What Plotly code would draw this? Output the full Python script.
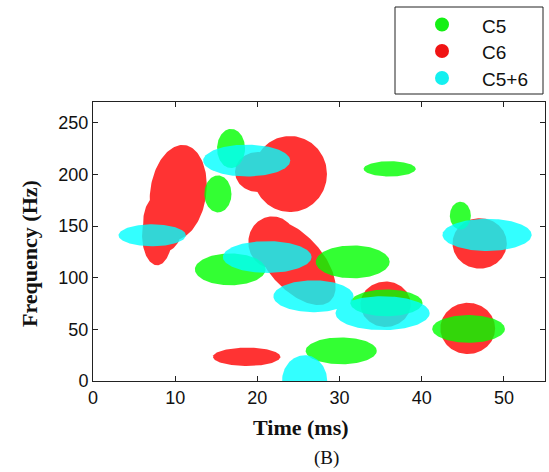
import numpy as np
import plotly.graph_objects as go

# ---------------- data ----------------
series_names = ["C5", "C6", "C5+6"]

# C5 (green) spots: centre time (ms), centre frequency (Hz), half-spread in time, half-spread in freq
c5_time = [16.8, 15.2, 36.1, 44.7, 16.7, 31.6, 35.7, 45.7, 30.2]
c5_freq = [225.0, 181.0, 205.3, 160.0, 108.0, 115.3, 75.6, 50.4, 29.2]
c5_dt = [1.7, 1.65, 3.17, 1.28, 4.3, 4.5, 4.4, 4.43, 4.33]
c5_df = [19.0, 17.9, 7.4, 13.5, 15.4, 15.9, 12.9, 13.4, 13.0]
c5_tilt = [0, 0, 0, 0, 0, 0, 0, 0, 0]
c5_group = [0, 1, 2, 3, 4, 5, 6, 7, 8]

# C6 (red) spots (blobs built from the union of ellipses of the same group)
c6_time = [10.37, 8.54, 7.8, 23.97, 20.08, 21.83, 24.63, 35.6, 45.6, 47.05, 18.7]
c6_freq = [182.4, 153.5, 141.0, 200.3, 202.3, 134.2, 114.9, 74.3, 50.9, 133.2, 23.4]
c6_dt = [3.41, 2.44, 1.83, 4.5, 2.8, 2.93, 6.34, 3.05, 3.33, 3.3, 4.1]
c6_df = [46.3, 29.0, 29.0, 36.8, 19.4, 25.1, 26.1, 22.0, 24.8, 24.4, 8.9]
c6_tilt = [-8, 0, 0, 0, 0, 0, -48, 0, 0, 0, 0]
c6_group = [0, 0, 0, 1, 1, 2, 2, 3, 4, 5, 6]

# C5+6 (cyan) spots
c56_time = [7.2, 18.7, 21.2, 26.83, 35.24, 47.95, 25.75]
c56_freq = [141.0, 213.3, 120.0, 82.0, 65.6, 141.4, 0.0]
c56_dt = [4.1, 5.3, 5.4, 4.88, 5.73, 5.43, 2.75]
c56_df = [10.6, 15.4, 15.4, 15.4, 16.4, 15.6, 25.0]
c56_tilt = [0, 0, 0, 0, 0, 0, 0]
c56_group = [0, 1, 2, 3, 3, 4, 5]

x_ticks = [0, 10, 20, 30, 40, 50]
y_ticks = [0, 50, 100, 150, 200, 250]
x_range = [0, 55]
y_range = [0, 270]

# ---------------- layout geometry ----------------
W, H = 549, 472
ML, MR, MT, MB = 93, 4, 102, 91
PW, PH = W - ML - MR, H - MT - MB
PX_X = PW / (x_range[1] - x_range[0])
PX_Y = PH / (y_range[1] - y_range[0])


def ellipse_pts(cx, cy, rx, ry, tilt):
    t = np.linspace(0, 2 * np.pi, 140)
    a = rx * PX_X * np.cos(t)
    b = ry * PX_Y * np.sin(t)
    th = np.radians(tilt)
    xs = a * np.cos(th) - b * np.sin(th)
    ys = a * np.sin(th) + b * np.cos(th)
    return list(cx + xs / PX_X), list(cy + ys / PX_Y)


def add_spots(fig, time, freq, dt, df, tilt, group, rgb):
    groups = {}
    for i in range(len(time)):
        groups.setdefault(group[i], []).append(i)
    for g, idx in groups.items():
        X, Y = [], []
        for i in idx:
            xs, ys = ellipse_pts(time[i], freq[i], dt[i], df[i], tilt[i])
            if X:
                X.append(None)
                Y.append(None)
            X += xs
            Y += ys
        fig.add_trace(go.Scatter(
            x=X, y=Y, mode="lines", fill="toself",
            fillcolor="rgba(%d,%d,%d,0.8)" % rgb,
            line=dict(width=0), showlegend=False, hoverinfo="skip"))


fig = go.Figure()
add_spots(fig, c6_time, c6_freq, c6_dt, c6_df, c6_tilt, c6_group, (255, 0, 0))
add_spots(fig, c5_time, c5_freq, c5_dt, c5_df, c5_tilt, c5_group, (0, 255, 0))
add_spots(fig, c56_time, c56_freq, c56_dt, c56_df, c56_tilt, c56_group, (0, 255, 255))

axis_common = dict(
    showgrid=False, zeroline=False, showline=True, linecolor="#222",
    linewidth=1, mirror="ticks", ticks="inside", ticklen=5, tickcolor="#222",
    tickfont=dict(family="Liberation Sans, Arial", size=18, color="#111"),
)
fig.update_xaxes(range=x_range, tickvals=x_ticks, **axis_common)
fig.update_yaxes(range=y_range, tickvals=y_ticks, **axis_common)


def px2paper(px, py):
    return (px - ML) / PW, (H - MB - py) / PH


shapes = []
lx0, ly0 = px2paper(395, 94)
lx1, ly1 = px2paper(543, 7)
shapes.append(dict(type="rect", xref="paper", yref="paper", x0=lx0, y0=ly0,
                   x1=lx1, y1=ly1, line=dict(color="#222", width=1),
                   fillcolor="white"))
legend_colors = ["rgb(20,240,20)", "rgb(240,20,20)", "rgb(20,240,240)"]
row_y = [24.5, 51, 78]
annotations = []
for name, col, ry in zip(series_names, legend_colors, row_y):
    ax, ay = px2paper(442, ry)
    shapes.append(dict(type="circle", xref="paper", yref="paper",
                       xsizemode="pixel", ysizemode="pixel",
                       xanchor=ax, yanchor=ay, x0=-7, x1=7, y0=-7, y1=7,
                       fillcolor=col, line=dict(width=0)))
    tx, ty = px2paper(480, ry + 1.5)
    annotations.append(dict(text=name, xref="paper", yref="paper", x=tx, y=ty,
                            xanchor="left", yanchor="middle", showarrow=False,
                            font=dict(family="Liberation Sans, Arial", size=19, color="#111")))

x_t = px2paper(301, 427)
annotations.append(dict(text="<b>Time (ms)</b>", xref="paper", yref="paper",
                        x=x_t[0], y=x_t[1], xanchor="center", yanchor="middle",
                        showarrow=False,
                        font=dict(family="Liberation Serif, Times New Roman", size=22, color="#111")))
y_t = px2paper(29, 254)
annotations.append(dict(text="<b>Frequency (Hz)</b>", xref="paper", yref="paper",
                        x=y_t[0], y=y_t[1], xanchor="center", yanchor="middle",
                        textangle=-90, showarrow=False,
                        font=dict(family="Liberation Serif, Times New Roman", size=22, color="#111")))
b_t = px2paper(326, 458)
annotations.append(dict(text="(B)", xref="paper", yref="paper",
                        x=b_t[0], y=b_t[1], xanchor="center", yanchor="middle",
                        showarrow=False,
                        font=dict(family="Liberation Serif, Times New Roman", size=19, color="#111")))

fig.update_layout(
    width=W, height=H,
    margin=dict(l=ML, r=MR, t=MT, b=MB, pad=0),
    plot_bgcolor="white", paper_bgcolor="white",
    shapes=shapes, annotations=annotations, showlegend=False,
)

fig.write_html("out.html")
